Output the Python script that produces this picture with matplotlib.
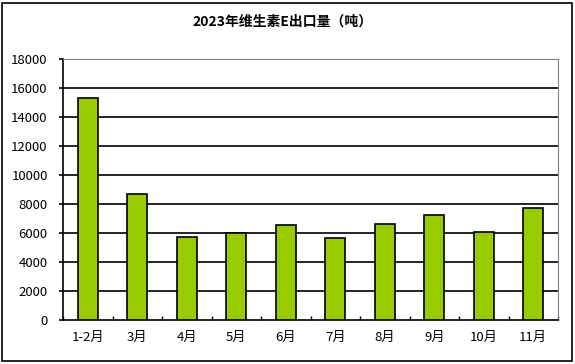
import matplotlib.pyplot as plt
from matplotlib.patches import Rectangle
import numpy as np

plt.rcParams['font.family'] = ['Noto Sans CJK SC', 'DejaVu Sans']

# data
months = ['1-2月', '3月', '4月', '5月', '6月', '7月', '8月', '9月', '10月', '11月']
export_t = [15310, 8690, 5720, 6000, 6550, 5660, 6620, 7240, 6070, 7720]
y_ticks = [0, 2000, 4000, 6000, 8000, 10000, 12000, 14000, 16000, 18000]

fig = plt.figure(figsize=(5.75, 3.64), dpi=100)
fig.patches.append(Rectangle((2 / 575, 3 / 364), 570 / 575, 358 / 364, transform=fig.transFigure,
                             fill=False, edgecolor='black', linewidth=1.2))

ax = fig.add_axes([63 / 575, 1 - 320.3 / 364, 495 / 575, 261 / 364])
x = np.arange(len(months))
ax.bar(x, export_t, width=0.4, color='#99cc00', edgecolor='black', linewidth=1.2, zorder=3)

ax.set_xlim(-0.5, len(months) - 0.5)
ax.set_ylim(0, 18000)
ax.set_yticks(y_ticks)
ax.set_yticklabels([str(v) for v in y_ticks], fontsize=9.5)
for v in y_ticks[1:-1]:
    ax.axhline(v, color='black', linewidth=1.2, zorder=1)

ax.set_xticks(x)
ax.set_xticklabels(months, fontsize=9.5)
ax.tick_params(axis='x', length=0, pad=8)
ax.set_xticks(np.arange(len(months) + 1) - 0.5, minor=True)
ax.tick_params(axis='x', which='minor', direction='in', length=3, width=1)
ax.tick_params(axis='y', direction='out', length=3, width=1.2, pad=8)

ax.spines['left'].set_linewidth(1.2)
ax.spines['bottom'].set_linewidth(1.2)
ax.spines['top'].set_color('#808080')
ax.spines['right'].set_color('#808080')

fig.text(0.491, 1 - 22 / 364, '2023年维生素E出口量（吨）', ha='center', va='center',
         fontsize=10, fontweight='bold')

fig.savefig('out.png', dpi=100)
